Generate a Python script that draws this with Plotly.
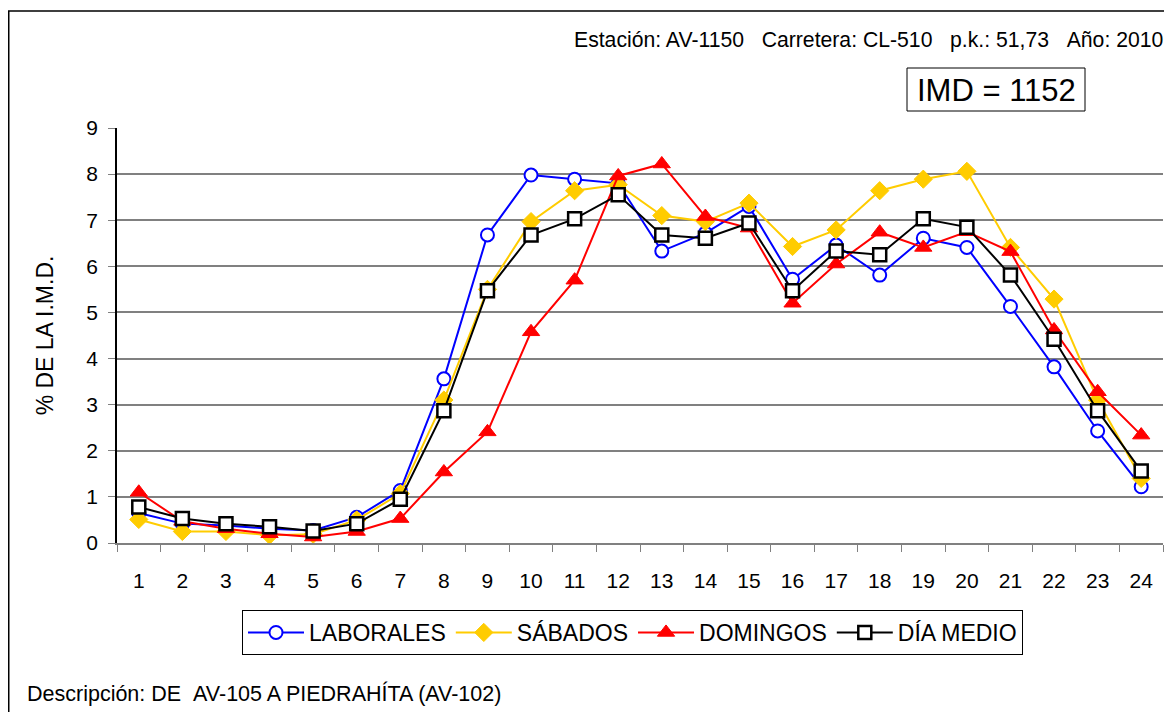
import plotly.graph_objects as go

hours = [str(h) for h in range(1, 25)]
laborales = [0.65, 0.42, 0.38, 0.31, 0.27, 0.56, 1.14, 3.56, 6.68, 7.98, 7.89, 7.80,
             6.33, 6.72, 7.30, 5.72, 6.46, 5.81, 6.61, 6.41, 5.13, 3.82, 2.43, 1.22]
sabados = [0.51, 0.25, 0.25, 0.17, 0.19, 0.50, 1.07, 3.10, 5.50, 6.97, 7.64, 7.77,
           7.10, 6.97, 7.37, 6.43, 6.79, 7.64, 7.89, 8.06, 6.41, 5.29, 3.10, 1.40]
domingos = [1.10, 0.47, 0.31, 0.20, 0.13, 0.25, 0.53, 1.54, 2.41, 4.58, 5.70, 7.96,
            8.22, 7.08, 6.83, 5.20, 6.05, 6.74, 6.41, 6.75, 6.32, 4.62, 3.28, 2.34]
dia_medio = [0.78, 0.53, 0.42, 0.35, 0.26, 0.42, 0.95, 2.87, 5.47, 6.68, 7.03, 7.55,
             6.68, 6.61, 6.94, 5.47, 6.33, 6.25, 7.03, 6.85, 5.81, 4.42, 2.87, 1.56]
y_ticks = list(range(0, 10))

FONT = "Arial, Liberation Sans, sans-serif"

fig = go.Figure()
fig.add_trace(go.Scatter(
    x=hours, y=laborales, name="LABORALES", mode="lines+markers",
    line=dict(color="#0000FF", width=2),
    marker=dict(symbol="circle", size=13, color="white",
                line=dict(color="#0000FF", width=2))))
fig.add_trace(go.Scatter(
    x=hours, y=sabados, name="SÁBADOS", mode="lines+markers",
    line=dict(color="#FFCC00", width=2),
    marker=dict(symbol="diamond", size=14, color="#FFCC00",
                line=dict(color="#FFCC00", width=1))))
fig.add_trace(go.Scatter(
    x=hours, y=domingos, name="DOMINGOS", mode="lines+markers",
    line=dict(color="#FF0000", width=2),
    marker=dict(symbol="triangle-up", size=15, color="#FF0000",
                line=dict(color="#FF0000", width=1))))
fig.add_trace(go.Scatter(
    x=hours, y=dia_medio, name="DÍA MEDIO", mode="lines+markers",
    line=dict(color="#000000", width=2),
    marker=dict(symbol="square", size=13, color="white",
                line=dict(color="#000000", width=2.5))))

# page body has an 8px margin: figure is shifted, so size/margins compensate
OFF = 8
W, H = 1172 - 2 * OFF, 720 - 2 * OFF
L, T = 117 - OFF, 128 - OFF
R = W - (1163 - OFF)
B = H - (543 - OFF)
pw, ph = W - L - R, H - T - B


def px(xs):
    """screen x (px) -> paper x"""
    return (xs - OFF - L) / pw


def py(ys):
    """screen y (px) -> paper y"""
    return (H - B - (ys - OFF)) / ph


fig.update_layout(
    width=W, height=H,
    margin=dict(l=L, r=R, t=T, b=B, autoexpand=False),
    paper_bgcolor="white", plot_bgcolor="white",
    font=dict(family=FONT, size=21, color="black"),
    showlegend=True,
    legend=dict(orientation="h", x=px(632.5), y=py(632.5), xanchor="center", yanchor="middle",
                bordercolor="black", borderwidth=1, font=dict(size=23),
                bgcolor="white", itemwidth=56, tracegroupgap=0),
    xaxis=dict(type="category", range=[-0.5, 23.5], showgrid=False, showline=True,
               linecolor="#808080", linewidth=1.5, ticks="outside", tickson="boundaries",
               ticklen=7, tickcolor="#808080", tickfont=dict(size=21),
               ticklabelstandoff=18, zeroline=False),
    yaxis=dict(range=[0, 9], tickvals=y_ticks, showgrid=True, gridcolor="#808080",
               gridwidth=1.5, showline=True, linecolor="black", linewidth=1.5,
               ticks="outside", ticklen=7, tickcolor="#808080",
               tickfont=dict(size=21), ticklabelstandoff=6, zeroline=False,
               title=dict(text="% DE LA I.M.D.", font=dict(size=23), standoff=26)),
)

# outer frame
fig.add_shape(type="rect", xref="paper", yref="paper",
              x0=px(OFF + 0.75), x1=px(1300), y0=py(900), y1=py(11),
              line=dict(color="black", width=1.5), fillcolor="rgba(0,0,0,0)", layer="below")

fig.add_annotation(xref="paper", yref="paper", x=px(1164), y=py(40),
                   xanchor="right", yanchor="middle", showarrow=False, borderpad=0,
                   text="Estación: AV-1150\u00a0\u00a0\u00a0Carretera: CL-510\u00a0\u00a0\u00a0p.k.: 51,73\u00a0\u00a0\u00a0Año: 2010",
                   font=dict(size=21.2, family=FONT))

fig.add_shape(type="rect", xref="paper", yref="paper",
              x0=px(907), x1=px(1085), y0=py(111), y1=py(68),
              line=dict(color="black", width=1), fillcolor="white")
fig.add_annotation(xref="paper", yref="paper", x=px(996), y=py(90),
                   xanchor="center", yanchor="middle", showarrow=False,
                   text="IMD = 1152", font=dict(size=31, family=FONT))

fig.add_annotation(xref="paper", yref="paper", x=px(25), y=py(693),
                   xanchor="left", yanchor="middle", showarrow=False,
                   text="Descripción: DE\u00a0\u00a0AV-105 A PIEDRAHÍTA (AV-102)",
                   font=dict(size=21.5, family=FONT))

fig.write_html("out.html")
